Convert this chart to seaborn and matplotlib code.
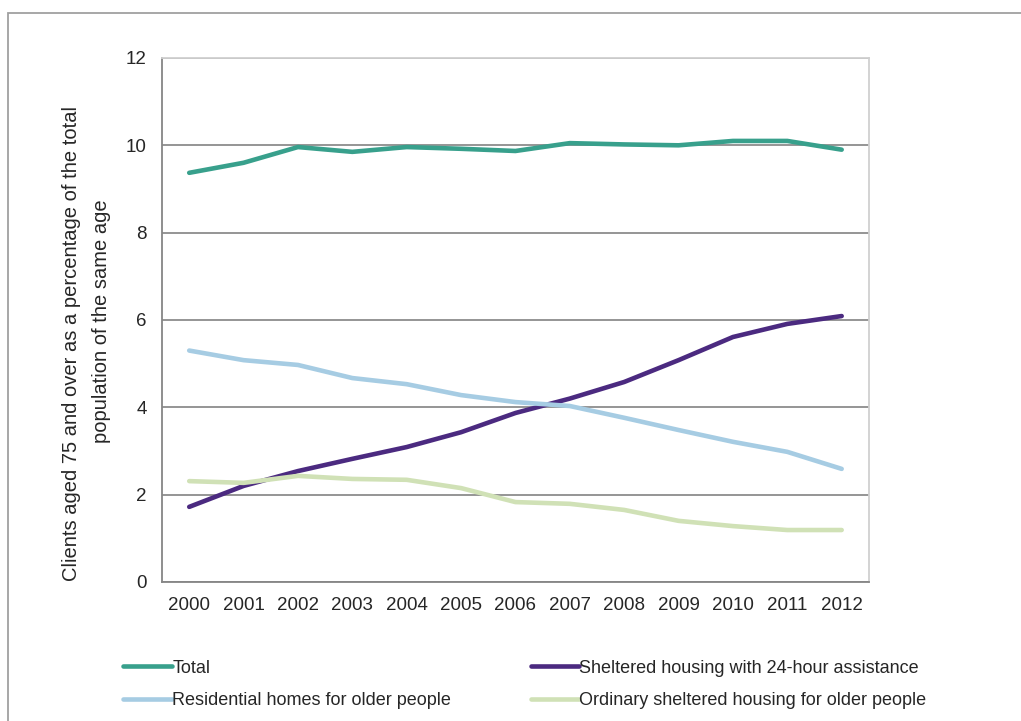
import matplotlib.pyplot as plt
import numpy as np
import pandas as pd
import seaborn as sns
from matplotlib.patches import Rectangle

years = ["2000", "2001", "2002", "2003", "2004", "2005", "2006",
         "2007", "2008", "2009", "2010", "2011", "2012"]

total = [9.37, 9.60, 9.96, 9.85, 9.96, 9.92, 9.87, 10.05, 10.02, 10.0, 10.1, 10.1, 9.9]
sheltered_24h = [1.72, 2.20, 2.54, 2.82, 3.09, 3.43, 3.87, 4.20, 4.58, 5.08, 5.61, 5.91, 6.09]
residential = [5.30, 5.08, 4.97, 4.67, 4.53, 4.28, 4.12, 4.03, 3.76, 3.48, 3.21, 2.98, 2.59]
ordinary = [2.31, 2.27, 2.43, 2.36, 2.34, 2.15, 1.83, 1.79, 1.65, 1.40, 1.28, 1.19, 1.19]

series_names = ["Total", "Sheltered housing with 24-hour assistance",
                "Residential homes for older people", "Ordinary sheltered housing for older people"]
colors = ["#38a08c", "#4b2a80", "#a6cce3", "#d0e1b6"]
ylabel_lines = ["Clients aged 75 and over as a percentage of the total",
                "population of the same age"]

df = pd.DataFrame({
    "year": years * 4,
    "value": total + sheltered_24h + residential + ordinary,
    "series": np.repeat(series_names, len(years)),
})
df["x"] = np.tile(np.arange(len(years)), 4)

sns.set_style("white")
plt.rcParams["font.family"] = ["Liberation Sans", "DejaVu Sans"]

fig = plt.figure(figsize=(10.21, 7.21), dpi=100)
ax = fig.add_axes([0.1587, 0.1928, 0.6923, 0.7268])

sns.lineplot(data=df, x="x", y="value", hue="series", hue_order=series_names,
             palette=colors, linewidth=3.3, legend=False, ax=ax)

ax.set_xlim(-0.5, len(years) - 0.5)
ax.set_ylim(0, 12)
ax.set_yticks(range(0, 13, 2))
ax.set_xticks(range(len(years)))
ax.set_xticklabels(years)
ax.tick_params(axis="both", labelsize=13.5, length=0, pad=11)
ax.yaxis.grid(True, color="#8c8c8c", linewidth=1.3)
ax.set_axisbelow(True)
ax.set_xlabel("")
ax.set_ylabel("")

# the two lines of the y title are not centred on each other in the original
fig.text(0.0705, 0.523, ylabel_lines[0], rotation=90, ha="center", va="center", fontsize=14.5)
fig.text(0.099, 0.555, ylabel_lines[1], rotation=90, ha="center", va="center", fontsize=14.5)

for side in ["left", "bottom"]:
    ax.spines[side].set_color("#868686")
    ax.spines[side].set_linewidth(1.3)
for side in ["right", "top"]:
    ax.spines[side].set_color("#d0d0d0")
    ax.spines[side].set_linewidth(1.3)

# legend below the chart, two columns
handles = [plt.Line2D([], [], color=c, linewidth=3.3) for c in colors]
order = [0, 2, 1, 3]
fig.legend([handles[i] for i in order], [series_names[i] for i in order],
           ncol=2, loc="lower left", bbox_to_anchor=(0.105, -0.006), frameon=False,
           fontsize=13, handlelength=2.7, handletextpad=0.0, columnspacing=4.4,
           labelspacing=0.85)

# outer chart border
fig.patches.append(Rectangle((8 / 1021, -0.05), 1.1, 1 - 13 / 721 + 0.05,
                             transform=fig.transFigure, fill=False,
                             edgecolor="#a0a0a0", linewidth=1.3))

fig.savefig("out.png", dpi=100)
